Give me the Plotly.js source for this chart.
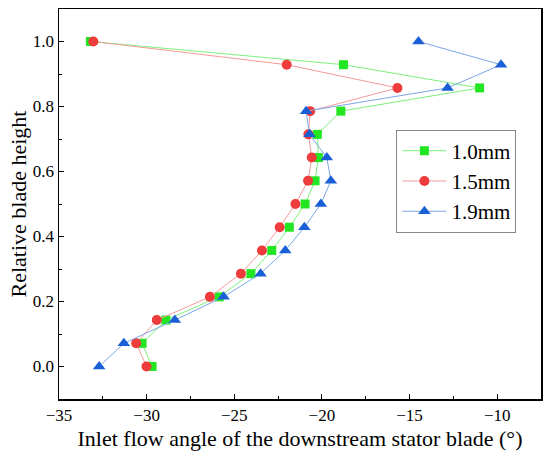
<!DOCTYPE html>
<html>
<head>
<meta charset="utf-8">
<script src="https://cdn.plot.ly/plotly-3.0.1.min.js"></script>
<style>html,body{margin:0;padding:0;background:#fff;}#chart{width:550px;height:464px;}</style>
</head>
<body>
<div id="chart"></div>
<script>
var heights = [0, 1/14, 2/14, 3/14, 4/14, 5/14, 6/14, 7/14, 8/14, 9/14, 10/14, 11/14, 12/14, 13/14, 1];
var angle10 = [-29.69, -30.26, -28.90, -25.86, -24.05, -22.86, -21.86, -20.96, -20.39, -20.20, -20.26, -18.92, -11.00, -18.77, -33.21];
var angle15 = [-30.01, -30.60, -29.42, -26.39, -24.62, -23.42, -22.41, -21.51, -20.79, -20.58, -20.77, -20.67, -15.69, -22.01, -33.04];
var angle19 = [-32.71, -31.30, -28.39, -25.61, -23.50, -22.09, -21.00, -20.06, -19.49, -19.72, -20.71, -20.90, -12.83, -9.78, -14.49];
var seriesNames = ["1.0mm", "1.5mm", "1.9mm"];

var font = "Liberation Serif, Times New Roman, serif";

var traces = [
  {x: angle10, y: heights, name: seriesNames[0], mode: "lines+markers",
   line: {color: "#7cf07c", width: 1},
   marker: {symbol: "square", size: 9, color: "#22e622"}},
  {x: angle15, y: heights, name: seriesNames[1], mode: "lines+markers",
   line: {color: "#f59a9a", width: 1},
   marker: {symbol: "circle", size: 10, color: "#ee3b3b"}},
  {x: angle19, y: heights, name: seriesNames[2], mode: "lines+markers",
   line: {color: "#7ea6e6", width: 1},
   marker: {symbol: "triangle-up", size: 11, color: "#1a5fd6"}}
];

var layout = {
  width: 550, height: 464,
  margin: {l: 59, r: 9, t: 9, b: 65},
  paper_bgcolor: "#fff", plot_bgcolor: "#fff",
  font: {family: font, color: "#000", size: 17},
  showlegend: true,
  legend: {x: 0.7, y: 0.691, xanchor: "left", yanchor: "top",
           bordercolor: "#888", borderwidth: 1, bgcolor: "#fff",
           itemwidth: 44, tracegroupgap: 0,
           font: {family: font, size: 21, color: "#000"}},
  xaxis: {
    range: [-35, -7.5], dtick: 5, tick0: -35,
    showgrid: false, zeroline: false,
    showline: true, linecolor: "#000", linewidth: 1.5, mirror: true,
    ticks: "inside", ticklen: 5, tickcolor: "#000",
    minor: {dtick: 2.5, ticks: "inside", ticklen: 3, tickcolor: "#000"},
    tickfont: {family: font, size: 17, color: "#000"},
    title: {text: "Inlet flow angle of the downstream stator blade (°)", font: {family: font, size: 22, color: "#000"}, standoff: 6}
  },
  yaxis: {
    range: [-0.1, 1.1], dtick: 0.2, tick0: 0, tickformat: ".1f",
    showgrid: false, zeroline: false,
    showline: true, linecolor: "#000", linewidth: 1.5, mirror: true,
    ticks: "inside", ticklen: 5, tickcolor: "#000",
    minor: {dtick: 0.1, ticks: "inside", ticklen: 3, tickcolor: "#000"},
    tickfont: {family: font, size: 17, color: "#000"},
    title: {text: "Relative blade height", font: {family: font, size: 22, color: "#000"}, standoff: 0}
  }
};

Plotly.newPlot("chart", traces, layout, {displayModeBar: false, staticPlot: true});
</script>
</body>
</html>
